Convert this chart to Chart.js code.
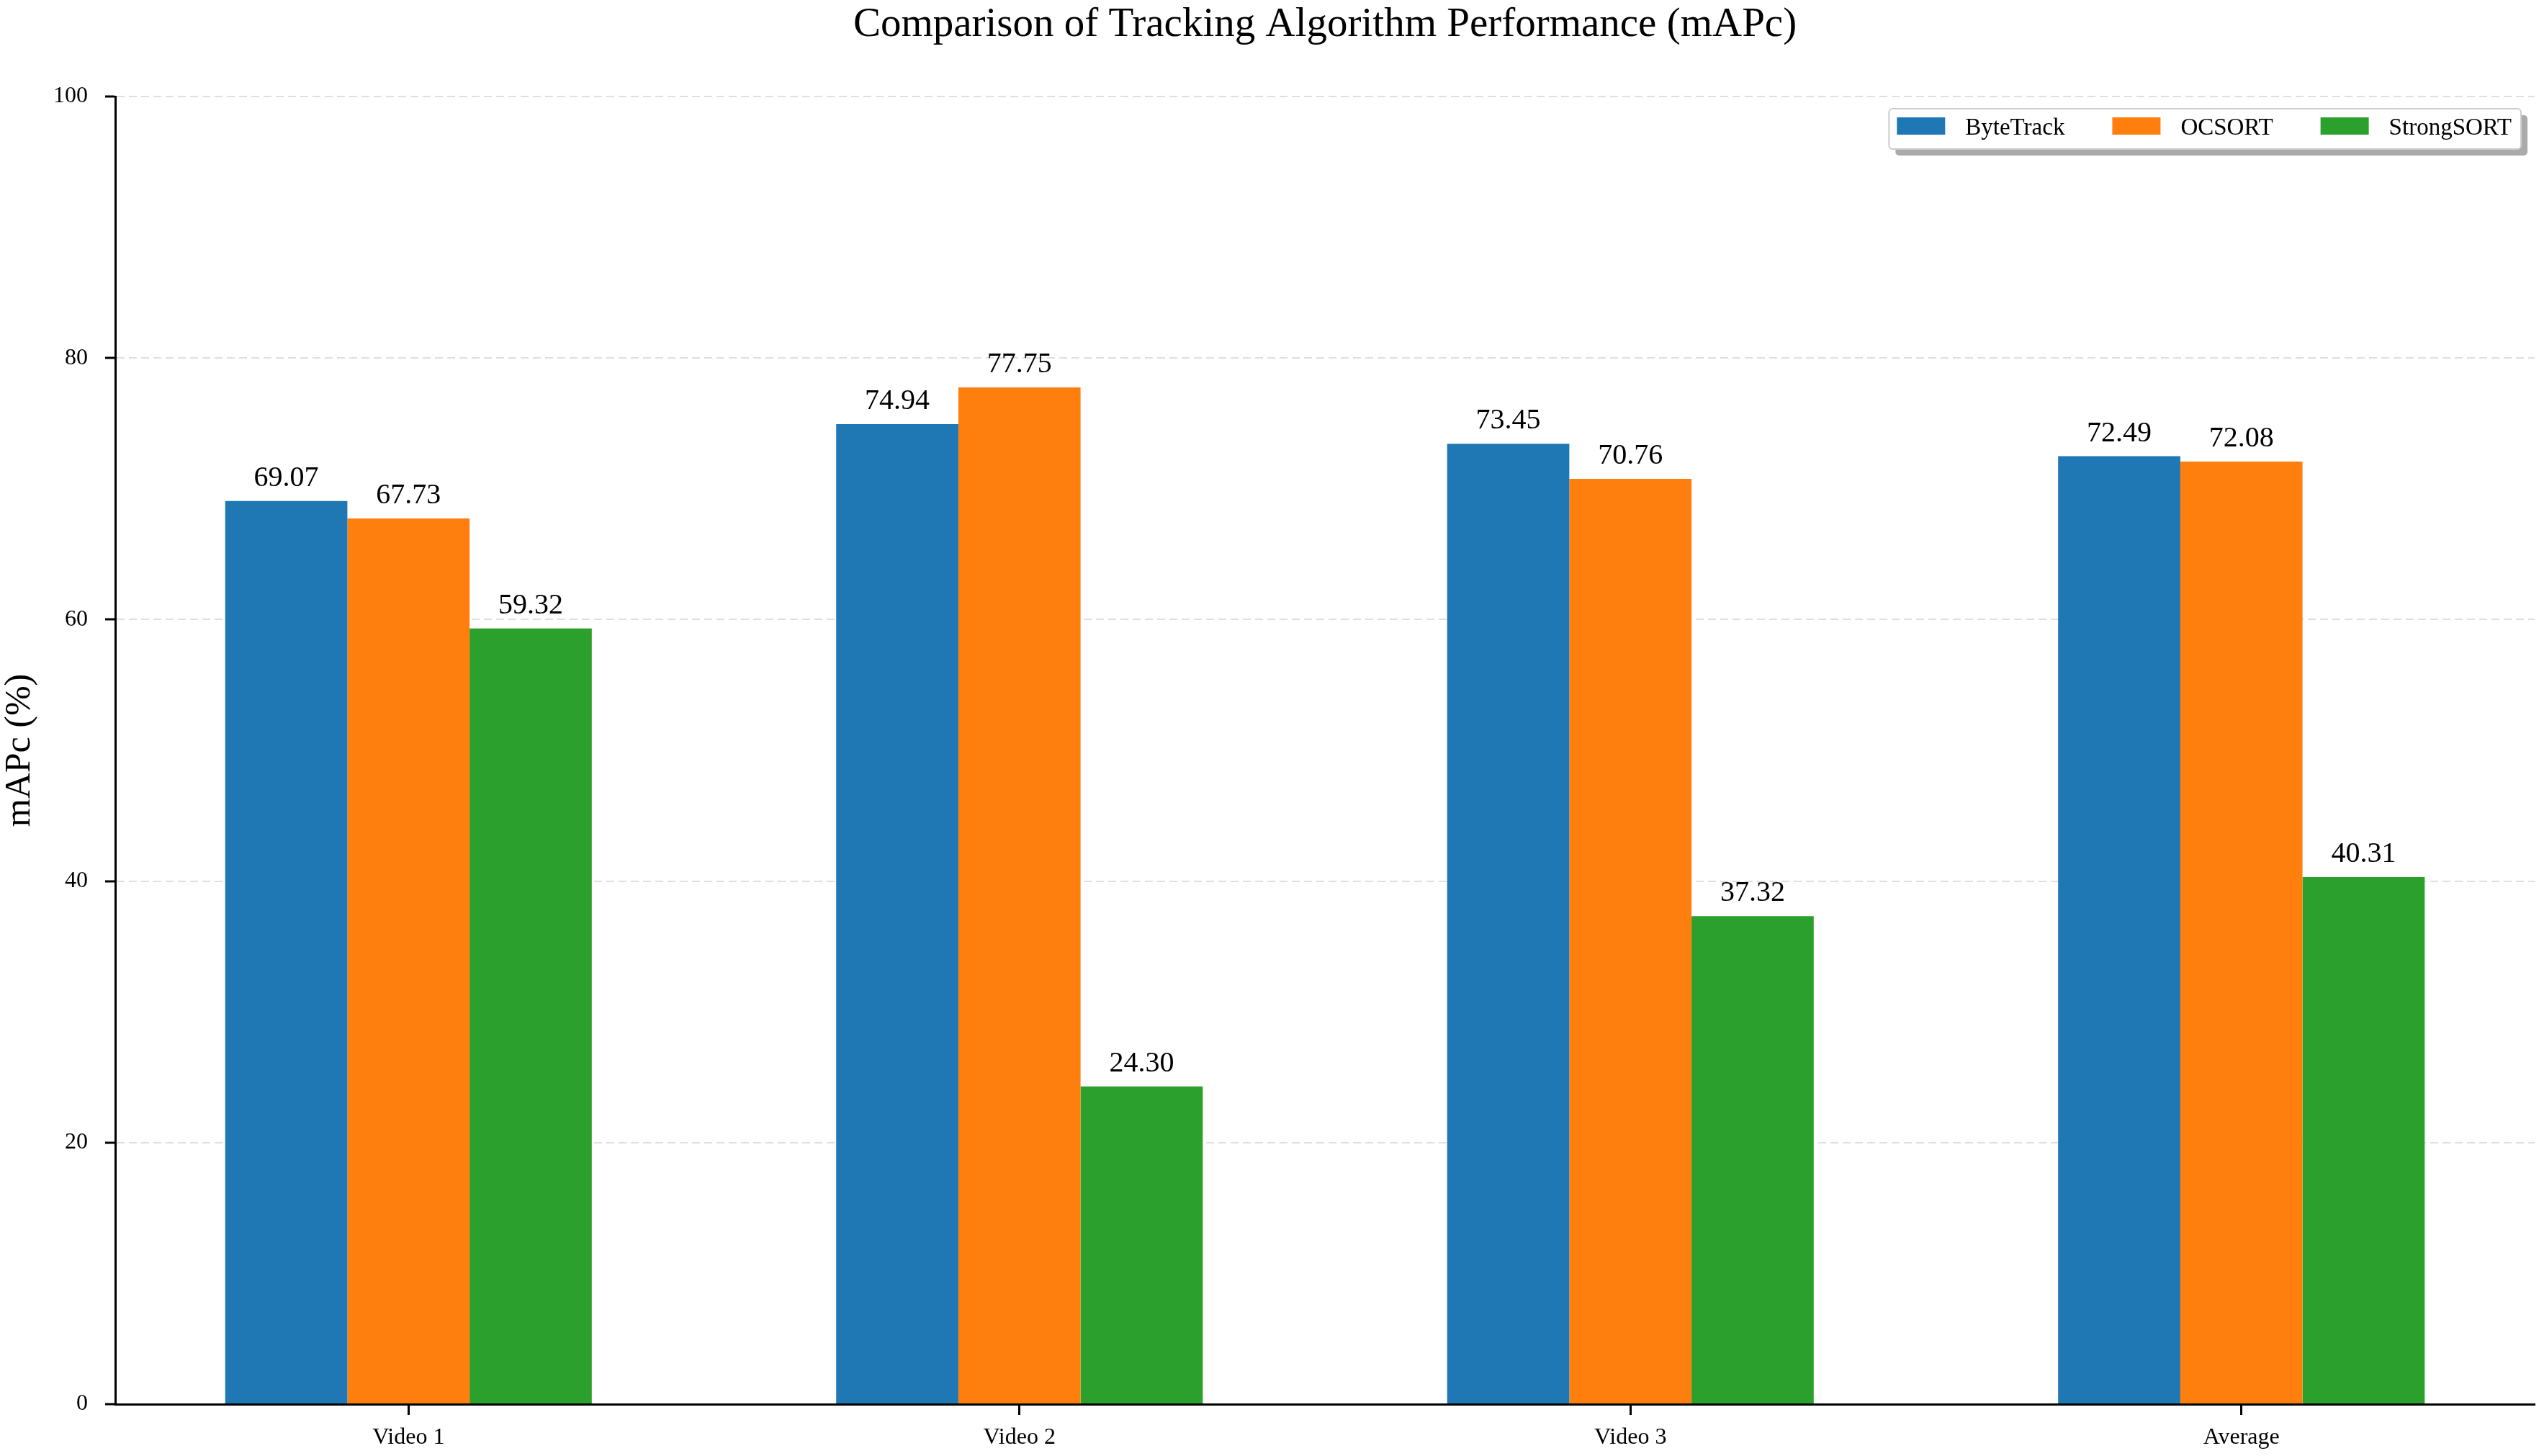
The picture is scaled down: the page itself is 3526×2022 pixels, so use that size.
<!DOCTYPE html>
<html>
<head>
<meta charset="utf-8">
<title>Comparison of Tracking Algorithm Performance (mAPc)</title>
<script src="https://cdn.jsdelivr.net/npm/chart.js@4.4.1/dist/chart.umd.min.js"></script>
<style>
  html, body { margin: 0; padding: 0; background: #fff; }
  canvas { display: block; }
</style>
</head>
<body>
<canvas id="chart" width="3526" height="2022"></canvas>
<script>
// data
const categories = ['Video 1', 'Video 2', 'Video 3', 'Average'];
const trackers = ['ByteTrack', 'OCSORT', 'StrongSORT'];
const byteTrack = [69.07, 74.94, 73.45, 72.49];
const ocSort = [67.73, 77.75, 70.76, 72.08];
const strongSort = [59.32, 24.30, 37.32, 40.31];
const yTicks = [0, 20, 40, 60, 80, 100];

const colors = ['#1f77b4', '#ff7f0e', '#2ca02c'];
const FONT = '"Liberation Serif", "Times New Roman", serif';

Chart.defaults.font.family = FONT;
Chart.defaults.color = '#000';

const series = [byteTrack, ocSort, strongSort];
const datasets = series.map((vals, i) => ({
  label: trackers[i],
  data: vals.map((v, j) => ({ x: j, y: v })),
  backgroundColor: colors[i],
  borderWidth: 0,
  categoryPercentage: 0.6,
  barPercentage: 1.0
}));

// title, value labels and the shadowed legend box
const extras = {
  id: 'extras',
  afterDraw(chart) {
    const ctx = chart.ctx;
    const area = chart.chartArea;
    ctx.save();

    // title centred over the axes
    ctx.fillStyle = '#000';
    ctx.font = '57px ' + FONT;
    ctx.textAlign = 'center';
    ctx.textBaseline = 'alphabetic';
    ctx.fillText('Comparison of Tracking Algorithm Performance (mAPc)', (area.left + area.right) / 2, 50);

    // value labels
    ctx.font = '40px ' + FONT;
    chart.data.datasets.forEach((ds, i) => {
      chart.getDatasetMeta(i).data.forEach((bar, j) => {
        ctx.fillText(series[i][j].toFixed(2), bar.x, bar.y - 21);
      });
    });

    // legend
    ctx.font = '33px ' + FONT;
    const patchW = 67, patchH = 24, textGap = 28, entryGap = 66, padL = 11, padR = 13;
    const widths = trackers.map(t => ctx.measureText(t).width);
    let boxW = padL + padR + (trackers.length - 1) * entryGap;
    widths.forEach(w => { boxW += patchW + textGap + w; });
    const boxH = 56;
    const boxRight = area.right - 19;
    const boxLeft = boxRight - boxW;
    const boxTop = area.top + 17;

    ctx.fillStyle = '#aaaaaa';
    ctx.beginPath();
    ctx.roundRect(boxLeft + 9, boxTop + 9, boxW, boxH, 5);
    ctx.fill();

    ctx.fillStyle = '#fff';
    ctx.strokeStyle = '#cccccc';
    ctx.lineWidth = 2;
    ctx.beginPath();
    ctx.roundRect(boxLeft, boxTop, boxW, boxH, 5);
    ctx.fill();
    ctx.stroke();

    let x = boxLeft + padL;
    ctx.textAlign = 'left';
    trackers.forEach((t, i) => {
      ctx.fillStyle = colors[i];
      ctx.fillRect(x, boxTop + 12, patchW, patchH);
      x += patchW + textGap;
      ctx.fillStyle = '#000';
      ctx.fillText(t, x, boxTop + 36);
      x += widths[i] + entryGap;
    });

    ctx.restore();
  }
};

new Chart(document.getElementById('chart'), {
  type: 'bar',
  data: { datasets },
  plugins: [extras],
  options: {
    responsive: false,
    devicePixelRatio: 1,
    animation: false,
    layout: { padding: { top: 134, right: 6, left: 0, bottom: 0 } },
    plugins: {
      legend: { display: false },
      title: { display: false },
      tooltip: { enabled: false }
    },
    scales: {
      x: {
        type: 'linear',
        min: -0.48,
        max: 3.48,
        offset: false,
        afterBuildTicks: s => { s.ticks = categories.map((c, i) => ({ value: i })); },
        afterFit: s => { s.height = 72; },
        ticks: {
          callback: v => categories[v],
          font: { size: 32 },
          color: '#000',
          padding: 12,
          maxRotation: 0
        },
        grid: {
          offset: false,
          drawOnChartArea: false,
          drawTicks: true,
          tickLength: 15,
          tickColor: '#000',
          tickWidth: 3,
          color: 'rgba(0,0,0,0)'
        },
        border: { display: true, color: '#000', width: 3 }
      },
      y: {
        min: 0,
        max: 100,
        z: 1,
        afterBuildTicks: s => { s.ticks = yTicks.map(v => ({ value: v })); },
        afterFit: s => { s.width = 160; },
        ticks: {
          font: { size: 32 },
          color: '#000',
          padding: 24
        },
        grid: {
          color: c => (c.tick && c.tick.value === 0) ? 'rgba(0,0,0,0)' : 'rgba(176,176,176,0.4)',
          lineWidth: 2,
          drawTicks: true,
          tickLength: 14,
          tickColor: '#000',
          tickWidth: 3
        },
        border: { display: true, color: '#000', width: 3, dash: [11, 6] },
        title: {
          display: true,
          text: 'mAPc (%)',
          font: { size: 50, lineHeight: 1.12 },
          color: '#000',
          padding: { top: 0, bottom: 0 }
        }
      }
    }
  }
});
</script>
</body>
</html>
